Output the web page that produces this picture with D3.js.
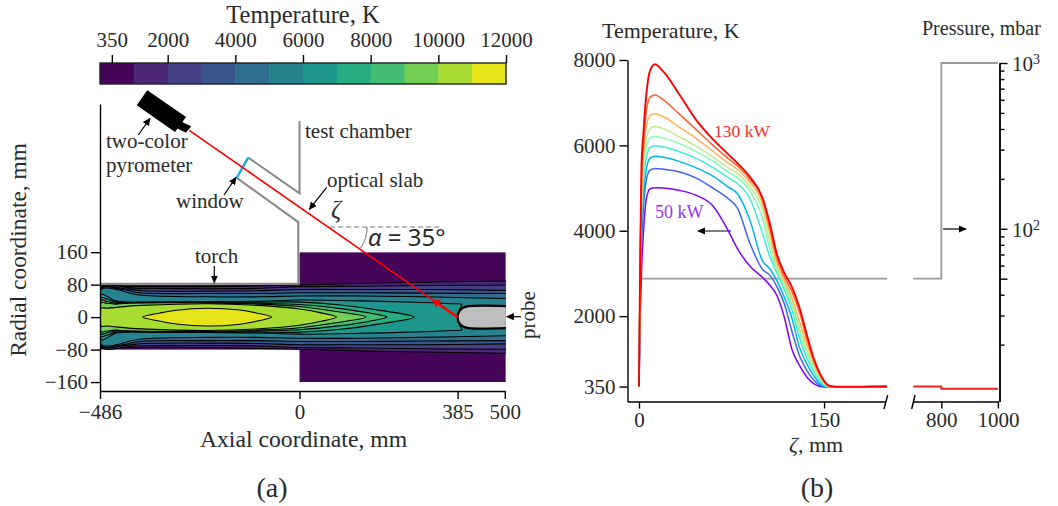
<!DOCTYPE html>
<html>

<head>
    <meta charset="utf-8">
    <style>
        body {
            margin: 0;
            background: white;
        }

        svg {
            display: block;
        }

        text {
            font-family: 'Liberation Serif', serif;
            fill: #2a2a2a;
        }

        .axis text {
            font-size: 21px;
            font-family: 'Liberation Serif', serif;
            fill: #2a2a2a;
        }

        .axis path,
        .axis line {
            stroke: black;
            stroke-width: 1.4;
        }

        .note {
            font-size: 21px;
        }
    </style>
</head>

<body>
    <svg width="1058" height="506"></svg>

    <script src="https://d3js.org/d3.v7.min.js"></script>
    <script>
        // colorbar
        let bandEdges = [0, 1000, 2000, 3000, 4000, 5000, 6000, 7000, 8000, 9000, 10000, 11000, 12000];
        let bandColors = ["#450559", "#4a2675", "#453f85", "#39568c", "#2f6e8e", "#26828e", "#1f968b", "#27ad81", "#42bd72", "#73d055", "#a9dc33", "#e5e419"];
        let barTicks = [350, 2000, 4000, 6000, 8000, 10000, 12000];

        // panel (a): contour outlines as [axial mm, radial mm], one per level from 1000 K up
        let level1 = [[-483, 76], [-470, 76], [-400, 75], [-226, 75], [-100, 77], [0, 79], [150, 83], [300, 86], [500, 89], [520, 90]];
        let level2 = [[-483, 73], [-400, 71], [-226, 70], [-100, 71], [0, 75], [150, 76], [300, 78], [500, 79], [520, 80]];
        let level3 = [[-483, 71], [-420, 69], [-380, 65], [-226, 64], [-100, 65], [0, 68], [150, 68], [300, 68], [500, 66], [520, 66]];
        let level4 = [[-483, 70], [-430, 68], [-390, 60], [-226, 58], [-100, 58], [0, 60], [150, 60], [300, 59], [500, 58], [520, 58]];
        let level5 = [[-483, 68], [-440, 67], [-417, 60], [-384, 54], [-226, 50], [-100, 50], [0, 52], [150, 52], [300, 50], [500, 46], [520, 46]];
        let level6 = [[-483, 56], [-474, 54], [-462, 47], [-449, 40], [-417, 37], [-384, 37], [-226, 38], [-100, 39], [0, 42], [150, 40], [300, 36], [370, 33], [395, 31], [390, 20], [385, 0]];
        let level7 = [[-483, 48], [-474, 46], [-462, 42], [-449, 37], [-417, 36], [-384, 36], [-226, 37], [-100, 37], [0, 37], [100, 30], [200, 16], [279, 0]];
        let level8 = [[-483, 42], [-474, 40], [-462, 37], [-449, 34], [-417, 35], [-226, 36], [-100, 34], [0, 31], [100, 21], [170, 10], [213, 0]];
        let level9 = [[-483, 36], [-474, 35], [-449, 32], [-417, 34], [-226, 35], [-100, 32], [0, 26], [80, 15], [162, 0]];
        let level10 = [[-483, 22], [-470, 22], [-417, 27], [-384, 29], [-226, 33], [-100, 29], [0, 20], [50, 11], [90, 0]];
        let level11 = [[-382, 0], [-340, 10], [-300, 17], [-226, 22], [-150, 18], [-100, 9], [-68, 0]];
        let contourLevels = [level1, level2, level3, level4, level5, level6, level7, level8, level9, level10, level11];
        let probeOutline = [[510, 27], [412, 27], [398, 23], [388, 13], [385, 0]];

        // test chamber, beam and pyrometer in the same mm coordinates
        let torchWall = [[-486, 82], [-3, 82], [-3, 234], [-153, 343]];
        let chamberWall = [[-125, 393], [0, 305], [0, 483]];
        let windowGlass = [[-153, 343], [-125, 393]];
        let beam = [[-268.5, 460], [385, 0]];
        let pyrometerBody = [[-370.8, 559], [-396.6, 522], [-303.3, 456], [-276.4, 493]];
        let pyrometerNose = [[-291, 483], [-264, 470], [-276.5, 454], [-299, 465]];
        let slabRef = [[74.5, 222], [342, 222]];

        // panel (b): wall distance and temperature for each torch power
        let zeta = [0, 1, 2, 3.5, 6, 9, 13, 20, 33, 46, 60, 72, 80, 90, 100, 106, 112, 118, 124, 130, 136, 142, 148, 154, 160, 170, 201];
        let t50 = [350, 2000, 3000, 3900, 4750, 4985, 5010, 5000, 4945, 4835, 4580, 4020, 3570, 3170, 2910, 2725, 2470, 1950, 1220, 850, 575, 410, 345, 340, 345, 345, 350];
        let t60 = [350, 2500, 3600, 4500, 5200, 5420, 5460, 5440, 5375, 5240, 5000, 4760, 4520, 3700, 3100, 2960, 2680, 2270, 1640, 1080, 730, 490, 360, 340, 345, 345, 350];
        let t70 = [350, 2900, 4000, 4800, 5450, 5700, 5745, 5720, 5620, 5480, 5280, 5030, 4860, 4240, 3300, 3110, 2820, 2430, 1950, 1280, 880, 590, 390, 340, 345, 345, 350];
        let t80 = [350, 3100, 4300, 5100, 5720, 5950, 5990, 5960, 5850, 5700, 5480, 5250, 5100, 4750, 3950, 3400, 3000, 2610, 2140, 1500, 1020, 680, 430, 345, 345, 345, 350];
        let t90 = [350, 3200, 4500, 5350, 5950, 6170, 6210, 6170, 6040, 5860, 5630, 5380, 5240, 4930, 4300, 3580, 3080, 2700, 2260, 1620, 1130, 750, 480, 350, 345, 345, 350];
        let t100 = [350, 3250, 4700, 5550, 6150, 6390, 6440, 6390, 6195, 5990, 5730, 5480, 5340, 5040, 4500, 3760, 3140, 2760, 2340, 1740, 1220, 810, 510, 355, 345, 345, 350];
        let t110 = [350, 3270, 4900, 5750, 6450, 6690, 6740, 6670, 6420, 6170, 5860, 5590, 5430, 5130, 4640, 3950, 3230, 2830, 2430, 1880, 1340, 880, 540, 360, 345, 345, 350];
        let t120 = [350, 3290, 5100, 5900, 6800, 7130, 7180, 7060, 6725, 6380, 6000, 5700, 5510, 5200, 4740, 4060, 3330, 2910, 2570, 2100, 1470, 930, 560, 365, 345, 345, 350];
        let t130 = [350, 3300, 5500, 6250, 7200, 7750, 7900, 7720, 7180, 6610, 6140, 5800, 5580, 5260, 4780, 4175, 3430, 3000, 2680, 2210, 1570, 980, 580, 370, 345, 345, 350];
        let tempSeries = [t50, t60, t70, t80, t90, t100, t110, t120, t130];
        let seriesColors = ["#8000ff", "#4062fa", "#00b5eb", "#40ecd4", "#80ffb4", "#c0eb8d", "#ffb360", "#ff6030", "#ff0000"];

        let zetaFar = [701, 800, 800, 1000];
        let tempFar = [350, 350, 300, 300];
        let pressureNear = [50, 50];
        let pressureNearZeta = [0, 201];
        let pressureFar = [50, 50, 1000, 1000];
        let pressureMajor = [50, 100, 1000];
        let pressureMinor = [20, 30, 40, 60, 70, 80, 90, 200, 300, 400, 500, 600, 700, 800, 900];

        let svg = d3.select("svg");

        svg.append("defs").append("marker")
            .attr("id", "head")
            .attr("viewBox", "0 0 10 10")
            .attr("refX", 9)
            .attr("refY", 5)
            .attr("markerUnits", "userSpaceOnUse")
            .attr("markerWidth", 8)
            .attr("markerHeight", 8)
            .attr("orient", "auto")
            .append("path")
            .attr("d", "M0,0.5 L10,5 L0,9.5 Z")
            .attr("fill", "black");

        // ---- colorbar ----
        let barScale = d3.scaleLinear().domain([0, 12000]).range([100, 506]);

        svg.append("g")
            .selectAll("rect")
            .data(bandColors)
            .join("rect")
            .attr("x", (d, i) => barScale(bandEdges[i]))
            .attr("width", (d, i) => barScale(bandEdges[i + 1]) - barScale(bandEdges[i]) + 0.5)
            .attr("y", 63)
            .attr("height", 21)
            .attr("fill", d => d);

        svg.append("rect")
            .attr("x", 100).attr("y", 63).attr("width", 406).attr("height", 21)
            .attr("fill", "none").attr("stroke", "#222").attr("stroke-width", 1.4);

        svg.append("g")
            .attr("class", "axis")
            .attr("transform", "translate(0,63)")
            .call(d3.axisTop(barScale).tickValues(barTicks).tickFormat(d3.format("d")).tickSize(8).tickSizeOuter(0).tickPadding(8))
            .call(g => g.select(".domain").remove());

        svg.append("text")
            .attr("x", 303).attr("y", 22.5)
            .attr("text-anchor", "middle")
            .attr("font-size", 24.5)
            .text("Temperature, K");

        // ---- panel (a) ----
        let xA = d3.scaleLinear().domain([-486, 500]).range([100, 504.8]);
        let yA = d3.scaleLinear().domain([-182, 525]).range([391, 104]);
        let lineA = d3.line().x(d => xA(d[0])).y(d => yA(d[1]));
        let contourPath = d3.line().x(d => xA(d[0])).y(d => yA(d[1])).curve(d3.curveCatmullRomClosed.alpha(0.5));

        svg.append("clipPath").attr("id", "field")
            .append("rect")
            .attr("x", xA(-486)).attr("width", xA(500) - xA(-486) + 1)
            .attr("y", yA(160)).attr("height", yA(-160) - yA(160));

        let field = svg.append("g").attr("clip-path", "url(#field)");

        field.append("rect")
            .attr("x", xA(-486)).attr("width", xA(0) - xA(-486))
            .attr("y", yA(80)).attr("height", yA(-80) - yA(80))
            .attr("fill", bandColors[0]);
        field.append("rect")
            .attr("x", xA(0)).attr("width", xA(500) - xA(0) + 1)
            .attr("y", yA(160)).attr("height", yA(-160) - yA(160))
            .attr("fill", bandColors[0]);

        // each level is mirrored around the axis to make one closed outline
        function mirrored(points) {
            let lower = points.filter(d => d[1] != 0).map(d => [d[0], -d[1]]).reverse();
            return points.concat(lower);
        }

        field.selectAll(".level")
            .data(contourLevels)
            .join("path")
            .attr("class", "level")
            .attr("d", d => contourPath(mirrored(d)))
            .attr("fill", (d, i) => bandColors[i + 1])
            .attr("stroke", "black")
            .attr("stroke-width", 1.1);

        field.append("path")
            .attr("d", d3.line().x(d => xA(d[0])).y(d => yA(d[1])).curve(d3.curveCatmullRom)(mirrored(probeOutline)))
            .attr("fill", "#bebebe")
            .attr("stroke", "black")
            .attr("stroke-width", 2.2);

        svg.append("path").attr("d", lineA(torchWall)).attr("fill", "none").attr("stroke", "#888").attr("stroke-width", 2);
        svg.append("path").attr("d", lineA(chamberWall)).attr("fill", "none").attr("stroke", "#888").attr("stroke-width", 2);
        svg.append("path").attr("d", lineA(windowGlass)).attr("fill", "none").attr("stroke", "#19aee8").attr("stroke-width", 2.4);
        svg.append("path").attr("d", lineA(slabRef)).attr("fill", "none").attr("stroke", "#777").attr("stroke-width", 1.2).attr("stroke-dasharray", "5,3");
        svg.append("path").attr("d", lineA(beam)).attr("fill", "none").attr("stroke", "#ff0000").attr("stroke-width", 1.6);
        svg.append("path").attr("d", lineA(pyrometerBody) + "Z").attr("fill", "black");
        svg.append("path").attr("d", lineA(pyrometerNose) + "Z").attr("fill", "black");

        // red arrow at the probe nose
        svg.append("line")
            .attr("x1", xA(385)).attr("y1", yA(0))
            .attr("x2", xA(338)).attr("y2", yA(33))
            .attr("stroke", "#ff0000").attr("stroke-width", 2.6);
        svg.append("path")
            .attr("d", d3.symbol(d3.symbolTriangle, 34)())
            .attr("transform", `translate(${xA(333)},${yA(36)}) rotate(-55)`)
            .attr("fill", "#ff0000");

        // angle arc
        svg.append("path")
            .attr("d", d3.arc().innerRadius(37).outerRadius(37).startAngle(Math.PI / 2).endAngle(Math.PI / 2 + 35 * Math.PI / 180)())
            .attr("transform", `translate(${xA(74.5)},${yA(222)})`)
            .attr("fill", "none").attr("stroke", "#999").attr("stroke-width", 1);

        svg.append("g")
            .attr("class", "axis")
            .attr("transform", "translate(100,0)")
            .call(d3.axisLeft(yA).tickValues([160, 80, 0, -80, -160]).tickFormat(d => d3.format("d")(d).replace("-", "\u2212")).tickSize(9).tickSizeOuter(0).tickPadding(3));

        svg.append("g")
            .attr("class", "axis")
            .attr("transform", "translate(0,391)")
            .call(d3.axisBottom(xA).tickValues([-486, 0, 385, 500]).tickFormat(d => d3.format("d")(d).replace("-", "\u2212")).tickSize(8).tickSizeOuter(0).tickPadding(5));

        svg.append("text")
            .attr("x", 303.5).attr("y", 447)
            .attr("text-anchor", "middle").attr("font-size", 23.7)
            .text("Axial coordinate, mm");

        svg.append("text")
            .attr("transform", "translate(26,250) rotate(-90)")
            .attr("text-anchor", "middle").attr("font-size", 23.4)
            .text("Radial coordinate, mm");

        let notes = [
            ["test chamber", 305, 138], ["two-color", 106, 148], ["pyrometer", 106, 172],
            ["window", 176, 208], ["optical slab", 327, 187], ["torch", 195, 263]
        ];
        svg.append("g").selectAll("text")
            .data(notes)
            .join("text")
            .attr("class", "note")
            .attr("x", d => d[1])
            .attr("y", d => d[2])
            .text(d => d[0]);

        svg.append("text")
            .attr("class", "note")
            .attr("transform", "translate(535,315) rotate(-90)")
            .attr("text-anchor", "middle")
            .text("probe");

        svg.append("text")
            .attr("x", 331).attr("y", 218)
            .attr("font-size", 25).attr("font-style", "italic")
            .text("\u03B6");

        let angleText = svg.append("text")
            .attr("x", 368).attr("y", 246)
            .attr("font-size", 24)
            .style("font-family", "'Noto Sans', sans-serif");
        angleText.append("tspan").attr("font-style", "italic").text("\u03B1");
        angleText.append("tspan").text(" = 35\u00B0");

        // small black annotation arrows [x1, y1, x2, y2]
        let arrows = [
            [138.3, 135, 150, 118.3], [224, 195, 236, 177.3], [326.7, 187.3, 309.3, 209.3],
            [214.3, 266, 214.3, 282.7], [521, 316.7, 506.7, 316.7], [731, 231, 698, 231], [943, 229, 966, 229]
        ];
        svg.append("g").selectAll("line")
            .data(arrows)
            .join("line")
            .attr("x1", d => d[0]).attr("y1", d => d[1])
            .attr("x2", d => d[2]).attr("y2", d => d[3])
            .attr("stroke", "black").attr("stroke-width", 1.2)
            .attr("marker-end", "url(#head)");

        svg.append("text")
            .attr("x", 272).attr("y", 497)
            .attr("text-anchor", "middle").attr("font-size", 28)
            .text("(a)");

        // ---- panel (b) ----
        let xNear = d3.scaleLinear().domain([-9.3, 199.4]).range([627.5, 885]);
        let xFar = d3.scaleLinear().domain([701, 1000]).range([913.3, 997.9]);
        let yT = d3.scaleLinear().domain([0, 8000]).range([401.5, 60]);
        let yP = d3.scaleLog().domain([9.08, 1000]).range([401.5, 63]);

        let tempLine = d3.line()
            .x((d, i) => xNear(zeta[i]))
            .y(d => yT(d))
            .curve(d3.curveMonotoneX);

        svg.append("path")
            .attr("d", d3.line().x((d, i) => xNear(pressureNearZeta[i])).y(d => yP(d))(pressureNear))
            .attr("fill", "none").attr("stroke", "#999").attr("stroke-width", 1.8);

        svg.append("g").selectAll("path")
            .data(tempSeries)
            .join("path")
            .attr("d", d => tempLine(d))
            .attr("fill", "none")
            .attr("stroke", (d, i) => seriesColors[i])
            .attr("stroke-width", (d, i) => i == 8 ? 1.9 : 1.5);

        svg.append("path")
            .attr("d", d3.line().x((d, i) => xFar(zetaFar[i])).y(d => yP(d))(pressureFar))
            .attr("fill", "none").attr("stroke", "#999").attr("stroke-width", 1.8);

        svg.append("path")
            .attr("d", d3.line().x((d, i) => xFar(zetaFar[i])).y(d => yT(d))(tempFar))
            .attr("fill", "none").attr("stroke", "#e8271a").attr("stroke-width", 2);

        svg.append("g")
            .attr("class", "axis")
            .attr("transform", "translate(627.5,0)")
            .call(d3.axisLeft(yT).tickValues([8000, 6000, 4000, 2000, 350]).tickFormat(d3.format("d")).tickSize(8).tickSizeOuter(0).tickPadding(4));

        svg.append("g")
            .attr("class", "axis")
            .attr("transform", "translate(0,401.5)")
            .call(d3.axisBottom(xNear).tickValues([0, 150]).tickFormat(d3.format("d")).tickSize(7).tickSizeOuter(0).tickPadding(4));

        svg.append("g")
            .attr("class", "axis")
            .attr("transform", "translate(0,401.5)")
            .call(d3.axisBottom(xFar).tickValues([800, 1000]).tickFormat(d3.format("d")).tickSize(7).tickSizeOuter(0).tickPadding(4));

        // right pressure axis, the labels have superscripts so they are added by hand
        svg.append("g")
            .attr("class", "axis")
            .attr("transform", "translate(999.5,0)")
            .call(d3.axisRight(yP).tickValues(pressureMinor).tickFormat("").tickSize(5).tickSizeOuter(0));

        svg.append("g")
            .attr("class", "axis")
            .attr("transform", "translate(999.5,0)")
            .call(d3.axisRight(yP).tickValues(pressureMajor).tickFormat("").tickSize(8).tickSizeOuter(0));

        [[100, "2"], [1000, "3"]].forEach(d => {
            let label = svg.append("text")
                .attr("x", 1012).attr("y", yP(d[0]) + 8)
                .attr("font-size", 21)
                .text("10");
            label.append("tspan").attr("dy", -7).attr("font-size", 14).text(d[1]);
        });

        // axis break marks [x1, y1, x2, y2]
        let breaks = [[887.7, 395, 884, 409], [915, 395, 911.7, 409]];
        svg.append("g").selectAll("line")
            .data(breaks)
            .join("line")
            .attr("x1", d => d[0]).attr("y1", d => d[1])
            .attr("x2", d => d[2]).attr("y2", d => d[3])
            .attr("stroke", "black").attr("stroke-width", 1.4);

        svg.append("text").attr("x", 602).attr("y", 38).attr("font-size", 22).text("Temperature, K");
        svg.append("text").attr("x", 922).attr("y", 35).attr("font-size", 20).text("Pressure, mbar");

        let zetaLabel = svg.append("text").attr("x", 789).attr("y", 452).attr("font-size", 22);
        zetaLabel.append("tspan").attr("font-style", "italic").text("\u03B6");
        zetaLabel.append("tspan").text(", mm");

        svg.append("text").attr("x", 714).attr("y", 137).attr("font-size", 17.5).style("fill", "#ff2a2a").text("130 kW");
        svg.append("text").attr("x", 655).attr("y", 218).attr("font-size", 18).style("fill", "#9a30ff").text("50 kW");

        svg.append("text")
            .attr("x", 817).attr("y", 497)
            .attr("text-anchor", "middle").attr("font-size", 28)
            .text("(b)");
    </script>
</body>

</html>
